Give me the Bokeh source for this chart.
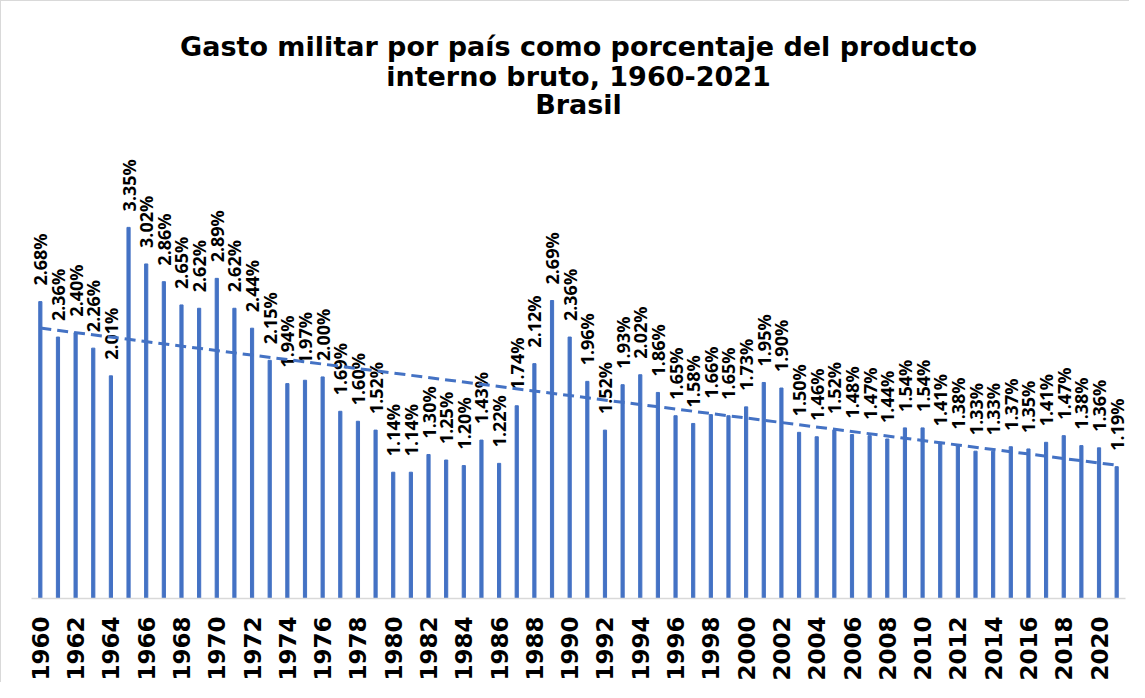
import numpy as np
from bokeh.plotting import figure
from bokeh.models import ColumnDataSource, Range1d, FixedTicker, Title, PrintfTickFormatter
from bokeh.core.properties import value
from bokeh.embed import file_html
from bokeh.resources import INLINE

# ---- data ----
years = list(range(1960, 2022))
gasto = [2.68, 2.36, 2.40, 2.26, 2.01, 3.35, 3.02, 2.86, 2.65, 2.62,
         2.89, 2.62, 2.44, 2.15, 1.94, 1.97, 2.00, 1.69, 1.60, 1.52,
         1.14, 1.14, 1.30, 1.25, 1.20, 1.43, 1.22, 1.74, 2.12, 2.69,
         2.36, 1.96, 1.52, 1.93, 2.02, 1.86, 1.65, 1.58, 1.66, 1.65,
         1.73, 1.95, 1.90, 1.50, 1.46, 1.52, 1.48, 1.47, 1.44, 1.54,
         1.54, 1.41, 1.38, 1.33, 1.33, 1.37, 1.35, 1.41, 1.47, 1.38,
         1.36, 1.19]
labels = [f"{v:.2f}%" for v in gasto]
tick_years = years[::2]
title_lines = ["Gasto militar por país como porcentaje del producto",
               "interno bruto, 1960-2021",
               "Brasil"]

BLUE = "#4472C4"

src = ColumnDataSource(dict(x=years, top=gasto, label=labels))

p = figure(width=1129, height=682, title=None,
           x_range=Range1d(years[0] - 0.5, years[-1] + 0.5),
           y_range=Range1d(0, 4.36),
           output_backend="svg", toolbar_location=None,
           min_border_left=30, min_border_right=5, min_border_top=114,
           min_border_bottom=5)
p.outline_line_color = None
p.background_fill_color = "white"
p.border_fill_color = "white"
p.styles = {"border-left": "1px solid #d9d9d9", "border-top": "1px solid #d9d9d9"}

# titles (added bottom-most first)
for i, txt in enumerate(reversed(title_lines)):
    p.add_layout(Title(text=txt, align="center", text_font="DejaVu Sans",
                       text_font_style="bold", text_font_size="27px",
                       text_color="#000000",
                       standoff=-8 if i == 0 else -3), "above")

p.vbar(x="x", top="top", width=0.18, source=src, color=BLUE)

p.text(x="x", y="top", text="label", source=src, angle=np.pi / 2,
       text_align="left", text_baseline="middle", y_offset=-16,
       text_font=value("Noto Sans"), text_font_style="bold", text_font_size="18px",
       text_color="#000000")

# linear trend line computed from the data
slope, intercept = np.polyfit(years, gasto, 1)
tx = [years[0], years[-1]]
ty = [slope * tx[0] + intercept, slope * tx[1] + intercept]
p.line(tx, ty, line_color=BLUE, line_width=3, line_dash="11 6")

p.yaxis.visible = False
p.xgrid.visible = False
p.ygrid.visible = False

ax = p.xaxis[0]
ax.ticker = FixedTicker(ticks=tick_years)
ax.formatter = PrintfTickFormatter(format="%d")
ax.major_label_orientation = np.pi / 2
ax.major_label_text_font = "DejaVu Sans"
ax.major_label_text_font_style = "bold"
ax.major_label_text_font_size = "23px"
ax.major_label_text_color = "#000000"
ax.major_label_standoff = 18
ax.major_tick_in = 0
ax.major_tick_out = 0
ax.major_tick_line_color = None
ax.minor_tick_line_color = None
ax.axis_line_color = "#d9d9d9"
ax.axis_line_width = 1.5

open("out.html", "w").write(file_html(p, INLINE))
